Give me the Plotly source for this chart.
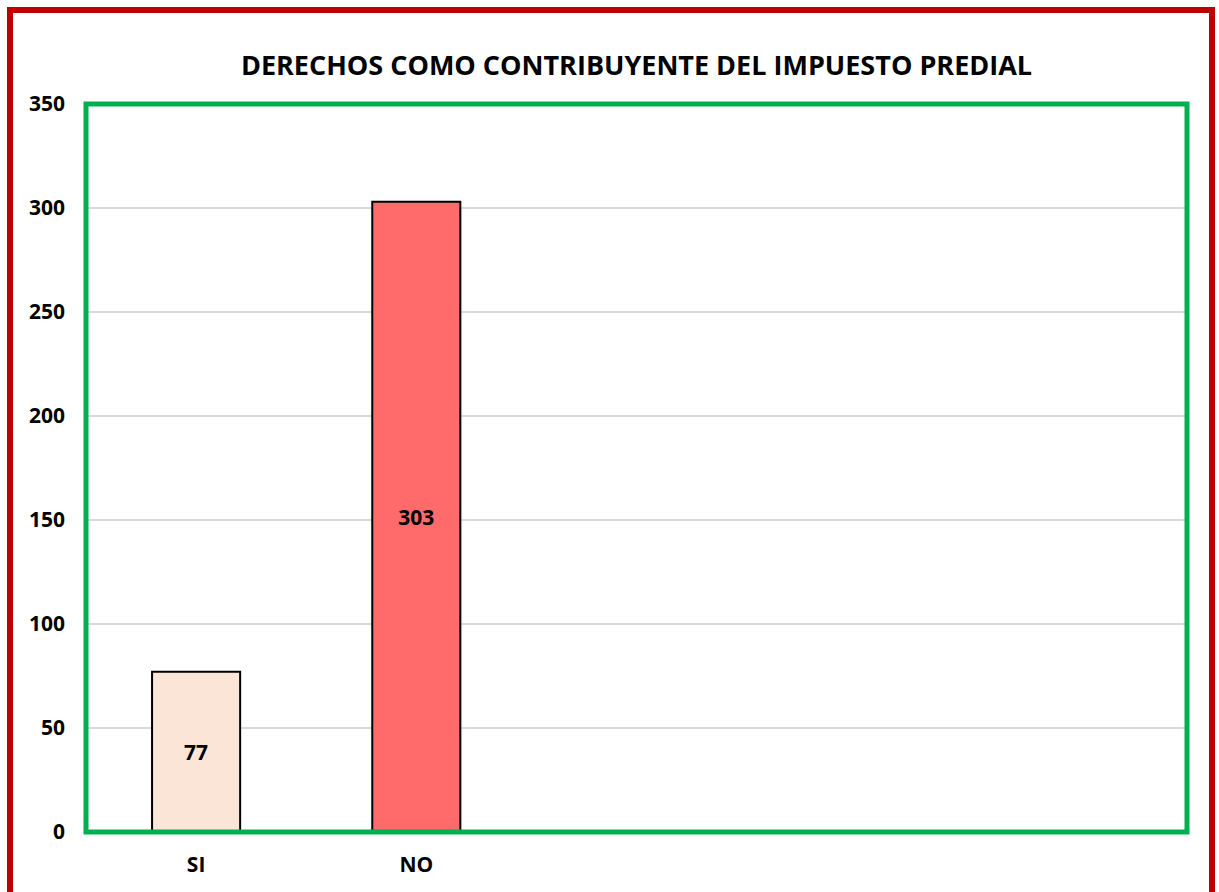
import plotly.graph_objects as go

# data
categories = ["SI", "NO"]
values = [77, 303]
bar_colors = ["#FBE5D6", "#FF6B6B"]
y_ticks = [0, 50, 100, 150, 200, 250, 300, 350]

W, H = 1219, 892
L, R, T, B = 86, 32, 104, 60
pw, ph = W - L - R, H - T - B

font_family = "Open Sans"

fig = go.Figure()
fig.add_trace(go.Bar(
    x=list(range(len(categories))),
    y=values,
    width=0.4,
    marker=dict(color=bar_colors, line=dict(color="black", width=2)),
    text=[f"<b>{v}</b>" for v in values],
    textposition="inside",
    insidetextanchor="middle",
    textfont=dict(family=font_family, size=21, color="black"),
    hoverinfo="skip",
))

# outer red frame (paper coords relative to plot area)
def px_x(p):
    return (p - L) / pw

def px_y(p):
    return (H - B - p) / ph

fig.add_shape(type="rect", xref="paper", yref="paper",
              x0=px_x(10), x1=px_x(1212), y0=px_y(900), y1=px_y(10),
              line=dict(color="#C00000", width=6), layer="below")
# green plot-area frame
fig.add_shape(type="rect", xref="paper", yref="paper",
              x0=0, x1=1, y0=0, y1=1,
              line=dict(color="#00B050", width=5), layer="above")

fig.update_layout(
    width=W, height=H,
    margin=dict(l=L, r=R, t=T, b=B),
    paper_bgcolor="white", plot_bgcolor="white",
    showlegend=False,
    title=dict(text="<b>DERECHOS COMO CONTRIBUYENTE DEL IMPUESTO PREDIAL</b>",
               xref="paper", x=0.5, xanchor="center",
               y=1 - 66 / H, yanchor="middle",
               font=dict(family=font_family, size=27, color="black")),
    xaxis=dict(range=[-0.5, 4.5], tickvals=list(range(len(categories))),
               ticktext=[f"<b>{c}</b>" for c in categories],
               showgrid=False, zeroline=False, showline=False,
               ticks="", ticklabelstandoff=18,
               tickfont=dict(family=font_family, size=21, color="black")),
    yaxis=dict(range=[0, 350], tickvals=y_ticks,
               ticktext=[f"<b>{v}</b>" for v in y_ticks],
               showgrid=True, gridcolor="#D9D9D9", gridwidth=1.5,
               zeroline=False, showline=False, ticks="",
               ticklabelstandoff=20,
               tickfont=dict(family=font_family, size=21, color="black")),
)

fig.write_html("out.html", config={"displayModeBar": False},
               post_script="document.body.style.margin='0';")
